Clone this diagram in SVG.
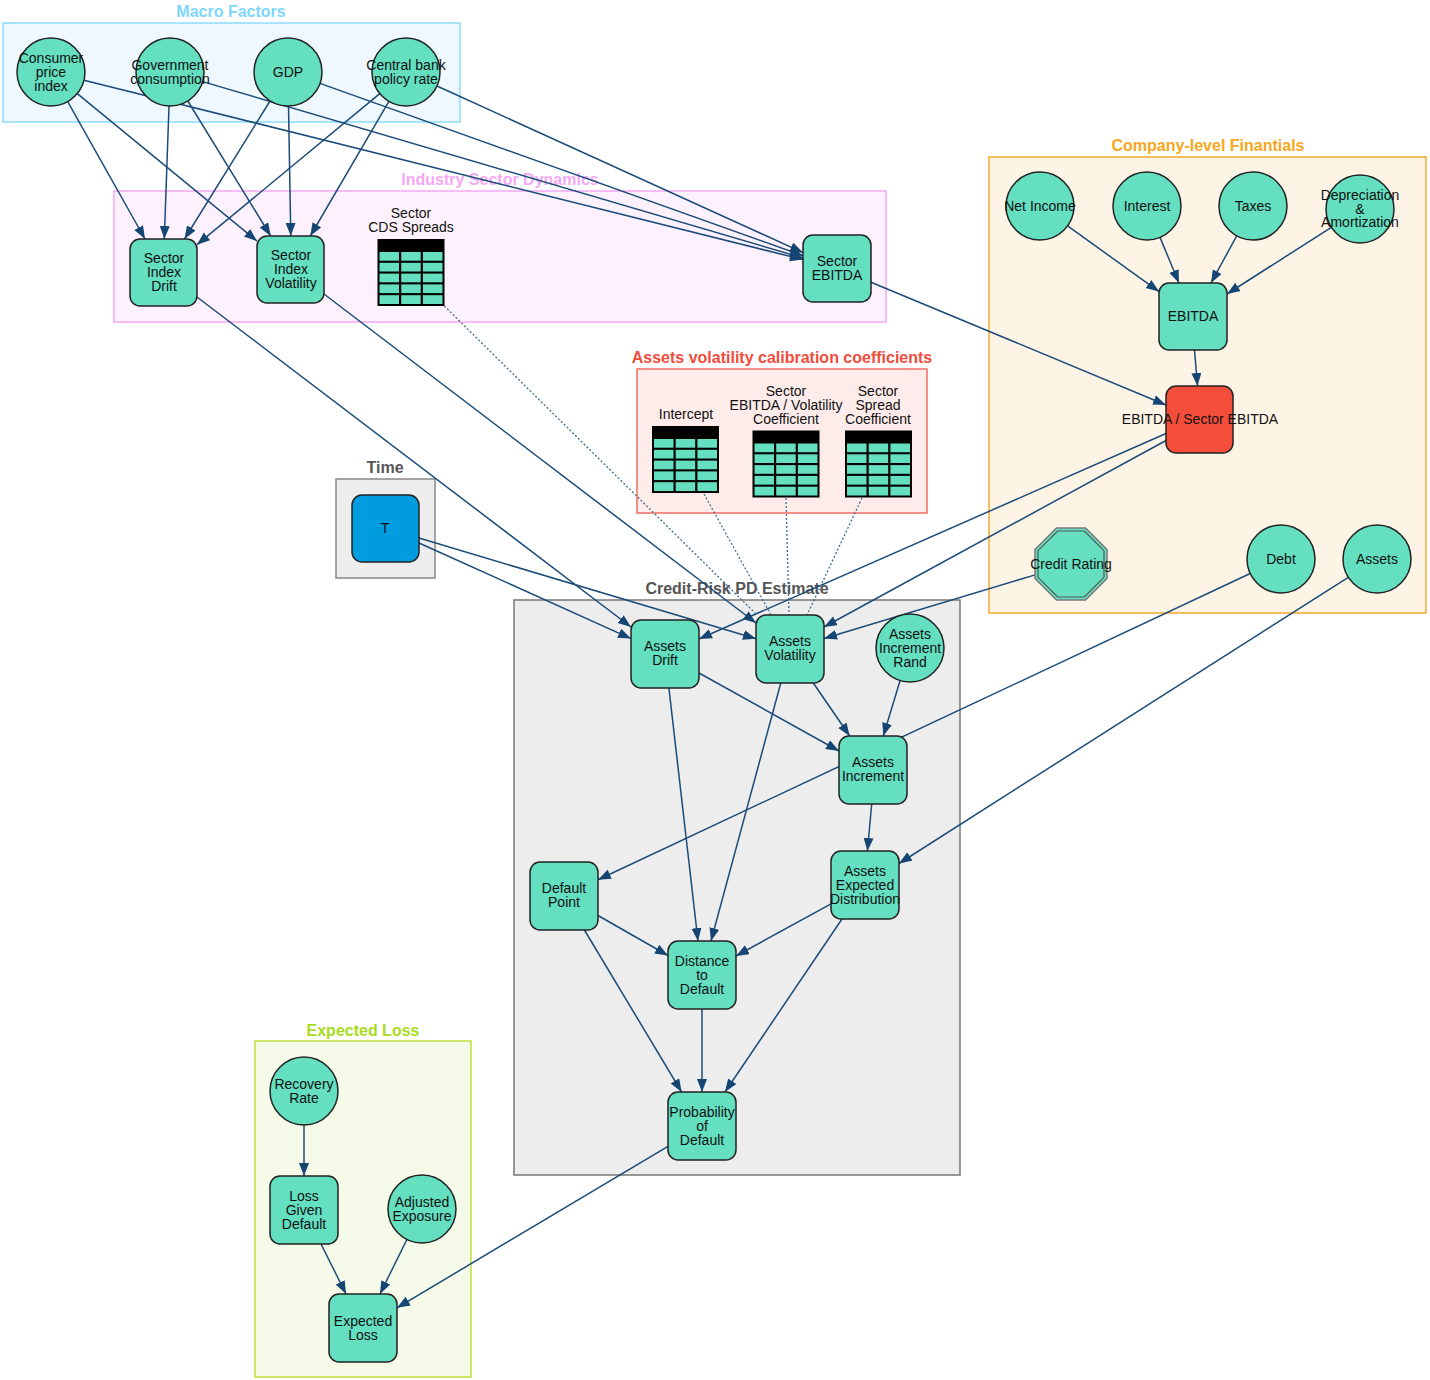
<svg xmlns="http://www.w3.org/2000/svg" xmlns:xlink="http://www.w3.org/1999/xlink" width="1430" height="1380" viewBox="0 0 1430 1380">
<style>
text{font-family:"Liberation Sans",Arial,sans-serif;font-size:14px;fill:#111;text-anchor:middle;dominant-baseline:central}
.title{font-size:16px;font-weight:bold}
.n{fill:#64dfc0;stroke:#222;stroke-width:1.5}
.e{fill:none;stroke:#1b4b78;stroke-width:1.5;marker-end:url(#arr)}
.d{fill:none;stroke:#3d6c93;stroke-width:1.3;stroke-dasharray:2 2}
</style>
<defs>
<marker id="arr" markerUnits="userSpaceOnUse" markerWidth="14" markerHeight="11" refX="13" refY="5" orient="auto">
<path d="M0,0 L13,5 L0,10 Z" fill="#154673"/>
</marker>
<g id="tbl">
<rect x="0" y="0" width="67" height="67" fill="#000"/>
<g fill="#64dfc0">
<rect x="2" y="13" width="19.5" height="8.7"/><rect x="23.7" y="13" width="19.5" height="8.7"/><rect x="45.4" y="13" width="19.6" height="8.7"/>
<rect x="2" y="23.8" width="19.5" height="8.7"/><rect x="23.7" y="23.8" width="19.5" height="8.7"/><rect x="45.4" y="23.8" width="19.6" height="8.7"/>
<rect x="2" y="34.6" width="19.5" height="8.7"/><rect x="23.7" y="34.6" width="19.5" height="8.7"/><rect x="45.4" y="34.6" width="19.6" height="8.7"/>
<rect x="2" y="45.4" width="19.5" height="8.7"/><rect x="23.7" y="45.4" width="19.5" height="8.7"/><rect x="45.4" y="45.4" width="19.6" height="8.7"/>
<rect x="2" y="56.2" width="19.5" height="8.8"/><rect x="23.7" y="56.2" width="19.5" height="8.8"/><rect x="45.4" y="56.2" width="19.6" height="8.8"/>
</g>
</g>
</defs>

<g id="clusters">
<g id="cluster-macro">
<rect x="3" y="23" width="457" height="99" fill="#eff8fe" stroke="#8cdcfa" stroke-width="1.5"/>
<text class="title" x="231" y="11" style="fill:#7fd6fa">Macro Factors</text>
</g>
<g id="cluster-industry">
<rect x="114" y="191" width="772" height="131" fill="#fdf1fd" stroke="#f4a8f4" stroke-width="1.5"/>
<text class="title" x="500" y="179" style="fill:#f5a8f3">Industry Sector Dynamics</text>
</g>
<g id="cluster-company">
<rect x="989" y="157" width="437" height="456" fill="#fdf4e6" stroke="#f5a82a" stroke-width="1.5"/>
<text class="title" x="1208" y="145" style="fill:#f7a71c">Company-level Finantials</text>
</g>
<g id="cluster-calib">
<rect x="637" y="369" width="290" height="144" fill="#fdecea" stroke="#f26e63" stroke-width="1.5"/>
<text class="title" x="782" y="357" style="fill:#f14c3c">Assets volatility calibration coefficients</text>
</g>
<g id="cluster-time">
<rect x="336" y="479" width="99" height="99" fill="#eeeeee" stroke="#888" stroke-width="1.5"/>
<text class="title" x="385" y="467" style="fill:#555">Time</text>
</g>
<g id="cluster-credit">
<rect x="514" y="600" width="446" height="575" fill="#ededed" stroke="#777" stroke-width="1.5"/>
<text class="title" x="737" y="588" style="fill:#555">Credit-Risk PD Estimate</text>
</g>
<g id="cluster-el">
<rect x="255" y="1041" width="216" height="336" fill="#f6fae8" stroke="#bde33c" stroke-width="1.5"/>
<text class="title" x="363" y="1030" style="fill:#a8dc1a">Expected Loss</text>
</g>
</g>

<g id="edges">
<line class="e" x1="67.7" y1="101.6" x2="145" y2="239"/>
<line class="e" x1="77.3" y1="93.6" x2="257" y2="241"/>
<line class="e" x1="84" y1="80.2" x2="803" y2="259.6"/>
<line class="e" x1="169" y1="106" x2="164.3" y2="239"/>
<line class="e" x1="187.8" y1="101" x2="270.7" y2="236"/>
<line class="e" x1="202.6" y1="81.6" x2="803" y2="258"/>
<line class="e" x1="270" y1="101" x2="184.5" y2="239"/>
<line class="e" x1="288.5" y1="106" x2="290.8" y2="236"/>
<line class="e" x1="320" y1="83.4" x2="803" y2="255.7"/>
<line class="e" x1="379.8" y1="93.7" x2="197" y2="244.7"/>
<line class="e" x1="388.9" y1="101.4" x2="310.3" y2="236"/>
<line class="e" x1="437" y1="86" x2="803" y2="252.6"/>
<line class="e" x1="871" y1="282.2" x2="1166" y2="405"/>
<line class="e" x1="1067.6" y1="225.9" x2="1159" y2="291.6"/>
<line class="e" x1="1160" y1="237.4" x2="1179" y2="283"/>
<line class="e" x1="1236.7" y1="235.9" x2="1211" y2="283"/>
<line class="e" x1="1331.4" y1="227.3" x2="1227" y2="294"/>
<line class="e" x1="1194.5" y1="350" x2="1197.5" y2="386"/>
<line class="e" x1="1166" y1="433.5" x2="699" y2="639"/>
<line class="e" x1="1166" y1="440.5" x2="824" y2="627"/>
<line class="e" x1="1036" y1="574.6" x2="824" y2="638.5"/>
<line class="e" x1="197" y1="297" x2="631" y2="627"/>
<line class="e" x1="419" y1="543" x2="631" y2="638.6"/>
<line class="e" x1="419" y1="538" x2="756" y2="638.8"/>
<line class="e" x1="324" y1="294" x2="756" y2="623"/>
<line class="d" x1="444.3" y1="306" x2="757" y2="615"/>
<line class="d" x1="704" y1="494" x2="771" y2="615"/>
<line class="d" x1="786" y1="498" x2="789" y2="615"/>
<line class="d" x1="862" y1="498" x2="807" y2="615"/>
<line class="e" x1="699" y1="673" x2="839" y2="751"/>
<line class="e" x1="813.3" y1="683" x2="849.7" y2="736"/>
<line class="e" x1="900.1" y1="680.5" x2="883.3" y2="736"/>
<line class="e" x1="1250.2" y1="573.5" x2="598" y2="879.7"/>
<line class="e" x1="1348.3" y1="577.3" x2="899" y2="863.5"/>
<line class="e" x1="871.7" y1="804" x2="867.4" y2="851"/>
<line class="e" x1="668.9" y1="688" x2="698" y2="941"/>
<line class="e" x1="780.8" y1="683" x2="711" y2="941"/>
<line class="e" x1="598" y1="915.5" x2="668" y2="955.5"/>
<line class="e" x1="831" y1="903.8" x2="736" y2="956"/>
<line class="e" x1="584.4" y1="930" x2="681.6" y2="1092"/>
<line class="e" x1="702" y1="1009" x2="702" y2="1092"/>
<line class="e" x1="842" y1="919" x2="725" y2="1092"/>
<line class="e" x1="668" y1="1146.3" x2="397" y2="1307.8"/>
<line class="e" x1="304" y1="1125" x2="304" y2="1176"/>
<line class="e" x1="321" y1="1244" x2="346" y2="1294"/>
<line class="e" x1="406.9" y1="1239.5" x2="380" y2="1294"/>
</g>

<g id="nodes">
<g id="cpi"><circle class="n" cx="51" cy="72" r="34"/><text x="51" y="58">Consumer</text><text x="51" y="72">price</text><text x="51" y="86">index</text></g>
<g id="gov"><circle class="n" cx="170" cy="72" r="34"/><text x="170" y="65">Government</text><text x="170" y="79">consumption</text></g>
<g id="gdp"><circle class="n" cx="288" cy="72" r="34"/><text x="288" y="72">GDP</text></g>
<g id="cbr"><circle class="n" cx="406" cy="72" r="34"/><text x="406" y="65">Central bank</text><text x="406" y="79">policy rate</text></g>

<g id="sid"><rect class="n" x="130" y="239" width="67" height="67" rx="10"/><text x="164" y="258">Sector</text><text x="164" y="272">Index</text><text x="164" y="286">Drift</text></g>
<g id="siv"><rect class="n" x="257" y="236" width="67" height="67" rx="10"/><text x="291" y="255">Sector</text><text x="291" y="269">Index</text><text x="291" y="283">Volatility</text></g>
<g id="cds"><text x="411" y="213">Sector</text><text x="411" y="227">CDS Spreads</text><use xlink:href="#tbl" x="377.5" y="239"/></g>
<g id="sebitda"><rect class="n" x="803" y="235" width="68" height="67" rx="10"/><text x="837" y="261">Sector</text><text x="837" y="275">EBITDA</text></g>

<g id="netincome"><circle class="n" cx="1040" cy="206" r="34"/><text x="1040" y="206">Net Income</text></g>
<g id="interest"><circle class="n" cx="1147" cy="206" r="34"/><text x="1147" y="206">Interest</text></g>
<g id="taxes"><circle class="n" cx="1253" cy="206" r="34"/><text x="1253" y="206">Taxes</text></g>
<g id="da"><circle class="n" cx="1360" cy="209" r="34"/><text x="1360" y="195">Depreciation</text><text x="1360" y="208.5">&amp;</text><text x="1360" y="222">Amortization</text></g>
<g id="ebitda"><rect class="n" x="1159" y="283" width="68" height="67" rx="10"/><text x="1193" y="316">EBITDA</text></g>
<g id="ratio"><rect x="1166" y="386" width="67" height="67" rx="10" fill="#f44e3b" stroke="#222" stroke-width="1.5"/><text x="1200" y="419">EBITDA / Sector EBITDA</text></g>

<g id="intercept"><text x="686" y="414">Intercept</text><use xlink:href="#tbl" x="652" y="426"/></g>
<g id="sevc"><text x="786" y="391">Sector</text><text x="786" y="405">EBITDA / Volatility</text><text x="786" y="419">Coefficient</text><use xlink:href="#tbl" x="752.5" y="430.5"/></g>
<g id="ssc"><text x="878" y="391">Sector</text><text x="878" y="405">Spread</text><text x="878" y="419">Coefficient</text><use xlink:href="#tbl" x="845" y="430.5"/></g>

<g id="t"><rect x="352" y="495" width="67" height="67" rx="10" fill="#009ce0" stroke="#222" stroke-width="1.5"/><text x="385" y="528">T</text></g>

<g id="creditrating">
<polygon points="1056.5,528 1085.5,528 1107,549.5 1107,578.5 1085.5,600 1056.5,600 1035,578.5 1035,549.5" fill="#64dfc0" stroke="#777" stroke-width="1.5"/>
<polygon points="1057.7,531 1084.3,531 1104,550.7 1104,577.3 1084.3,597 1057.7,597 1038,577.3 1038,550.7" fill="none" stroke="#555" stroke-width="1.2"/>
<text x="1071" y="564">Credit Rating</text>
</g>
<g id="debt"><circle class="n" cx="1281" cy="559" r="34"/><text x="1281" y="559">Debt</text></g>
<g id="assets"><circle class="n" cx="1377" cy="559" r="34"/><text x="1377" y="559">Assets</text></g>

<g id="assetsdrift"><rect class="n" x="631" y="620" width="68" height="68" rx="10"/><text x="665" y="646">Assets</text><text x="665" y="660">Drift</text></g>
<g id="assetsvol"><rect class="n" x="756" y="615" width="68" height="68" rx="10"/><text x="790" y="641">Assets</text><text x="790" y="655">Volatility</text></g>
<g id="air"><circle class="n" cx="910" cy="648" r="34"/><text x="910" y="634">Assets</text><text x="910" y="648">Increment</text><text x="910" y="662">Rand</text></g>
<g id="ai"><rect class="n" x="839" y="736" width="68" height="68" rx="10"/><text x="873" y="762">Assets</text><text x="873" y="776">Increment</text></g>
<g id="dp"><rect class="n" x="530" y="862" width="68" height="68" rx="10"/><text x="564" y="888">Default</text><text x="564" y="902">Point</text></g>
<g id="aed"><rect class="n" x="831" y="851" width="68" height="68" rx="10"/><text x="865" y="871">Assets</text><text x="865" y="885">Expected</text><text x="865" y="899">Distribution</text></g>
<g id="dtd"><rect class="n" x="668" y="941" width="68" height="68" rx="10"/><text x="702" y="961">Distance</text><text x="702" y="975">to</text><text x="702" y="989">Default</text></g>
<g id="pod"><rect class="n" x="668" y="1092" width="68" height="68" rx="10"/><text x="702" y="1112">Probability</text><text x="702" y="1126">of</text><text x="702" y="1140">Default</text></g>

<g id="rr"><circle class="n" cx="304" cy="1091" r="34"/><text x="304" y="1084">Recovery</text><text x="304" y="1098">Rate</text></g>
<g id="lgd"><rect class="n" x="270" y="1176" width="68" height="68" rx="10"/><text x="304" y="1196">Loss</text><text x="304" y="1210">Given</text><text x="304" y="1224">Default</text></g>
<g id="ae"><circle class="n" cx="422" cy="1209" r="34"/><text x="422" y="1202">Adjusted</text><text x="422" y="1216">Exposure</text></g>
<g id="el"><rect class="n" x="329" y="1294" width="68" height="68" rx="10"/><text x="363" y="1321">Expected</text><text x="363" y="1335">Loss</text></g>
</g>
</svg>
